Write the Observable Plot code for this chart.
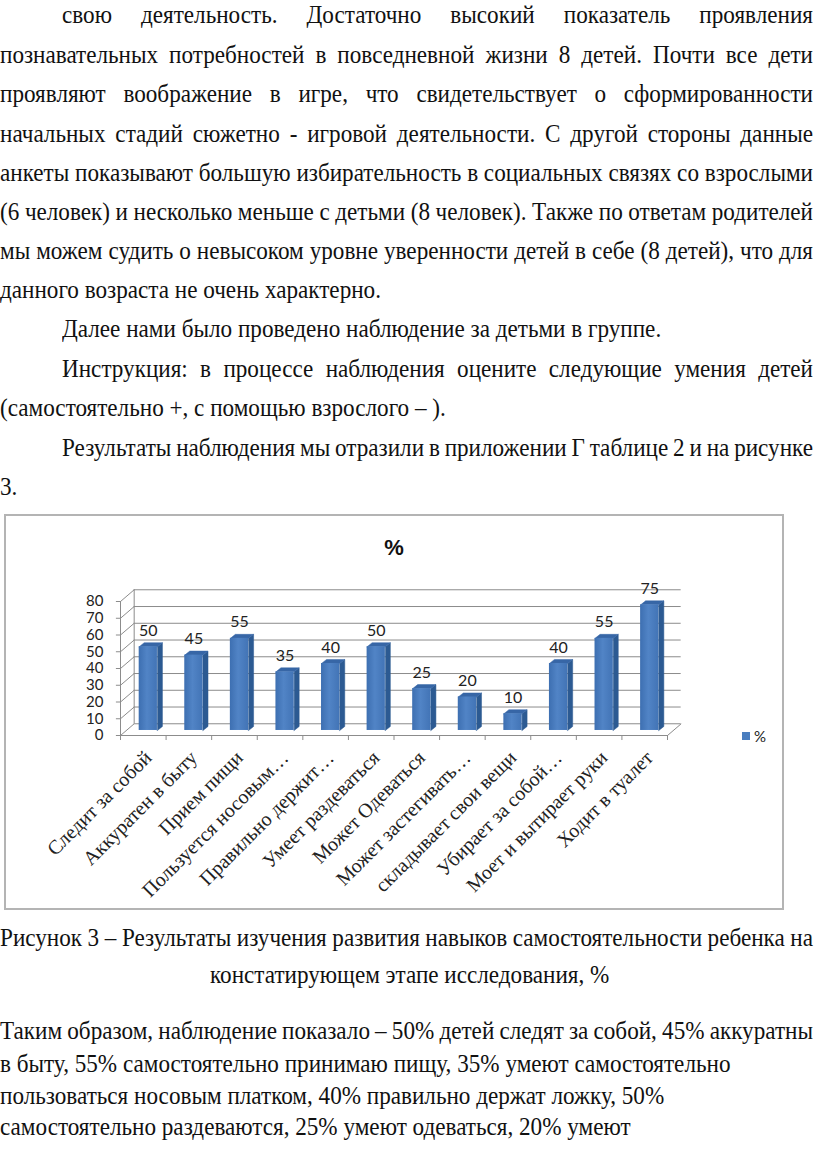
<!DOCTYPE html>
<html><head><meta charset="utf-8">
<script src="https://cdn.jsdelivr.net/npm/d3@7"></script>
<script src="https://cdn.jsdelivr.net/npm/@observablehq/plot@0.6"></script>
<style>
body{margin:0;width:816px;height:1160px;position:relative;background:#fff;overflow:hidden;}
.ln{position:absolute;white-space:pre;font-family:"Liberation Serif","DejaVu Serif",serif;font-size:26px;line-height:26px;color:#111;transform-origin:0 50%;}
#box{position:absolute;left:4px;top:514px;width:776px;height:392px;border:2px solid #b4b4b4;}
#chart{position:absolute;left:0;top:515px;}
#legend{position:absolute;left:742px;top:727px;font-family:Lato,"Liberation Sans",sans-serif;font-size:15px;color:#222;display:flex;align-items:center;gap:4px;}
#legend span.sw{display:inline-block;width:8px;height:8px;background:#4a7ebf;}
</style></head><body>
<div id="box"></div>
<div id="chart"></div>
<div id="legend"><span class="sw"></span><span id="legText"></span></div>
<script>
// ---- chart data ----
const categories = ["Следит за собой","Аккуратен в быту","Прием пищи","Пользуется носовым…","Правильно держит…","Умеет раздеваться","Может Одеваться","Может застегивать…","складывает свои вещи","Убирает за собой…","Моет и вытирает руки","Ходит в туалет"];
const values = [50,45,55,35,40,50,25,20,10,40,55,75];
const yTicks = [0,10,20,30,40,50,60,70,80];
const seriesName = "%";
const chartTitle = "%";

// ---- page text ----
const textLines = [
 {t:"свою деятельность. Достаточно высокий показатель проявления", y:17, ind:62, j:true},
 {t:"познавательных потребностей в повседневной жизни 8 детей. Почти все дети", y:57, ind:0, j:true},
 {t:"проявляют воображение в игре, что свидетельствует о сформированности", y:96, ind:0, j:true},
 {t:"начальных стадий сюжетно - игровой деятельности. С другой стороны данные", y:136, ind:0, j:true},
 {t:"анкеты показывают большую избирательность в социальных связях со взрослыми", y:175, ind:0, j:true},
 {t:"(6 человек) и несколько меньше с детьми (8 человек). Также по ответам родителей", y:214, ind:0, j:true},
 {t:"мы можем судить о невысоком уровне уверенности детей в себе (8 детей), что для", y:253, ind:0, j:true},
 {t:"данного возраста не очень характерно.", y:292, ind:0, j:false},
 {t:"Далее нами было проведено наблюдение за детьми в группе.", y:331, ind:62, j:false},
 {t:"Инструкция: в процессе наблюдения оцените следующие умения детей", y:371, ind:62, j:true},
 {t:"(самостоятельно +, с помощью взрослого – ).", y:410, ind:0, j:false},
 {t:"Результаты наблюдения мы отразили в приложении Г таблице 2 и на рисунке", y:450, ind:62, j:true},
 {t:"3.", y:489, ind:0, j:false},
 {t:"Рисунок 3 – Результаты изучения развития навыков самостоятельности ребенка на", y:940, ind:0, j:true},
 {t:"констатирующем этапе исследования, %", y:977, ind:0, j:false, c:true},
 {t:"Таким образом, наблюдение показало – 50% детей следят за собой, 45% аккуратны", y:1033, ind:0, j:true},
 {t:"в быту, 55% самостоятельно принимаю пищу, 35% умеют самостоятельно", y:1066, ind:0, j:false},
 {t:"пользоваться носовым платком, 40% правильно держат ложку, 50%", y:1098, ind:0, j:false},
 {t:"самостоятельно раздеваются, 25% умеют одеваться, 20% умеют", y:1129, ind:0, j:false}
];

const RIGHT = 813;
const els = textLines.map(L => {
  const d = document.createElement("div");
  d.className = "ln"; d.textContent = L.t;
  document.body.appendChild(d);
  return d;
});
const refW = els[4].getBoundingClientRect().width;
const s = RIGHT / refW;
textLines.forEach((L, k) => {
  const d = els[k];
  const w = d.getBoundingClientRect().width;
  if (L.j) {
    const n = (L.t.match(/ /g) || []).length;
    const target = (RIGHT - L.ind) / s;
    d.style.wordSpacing = ((target - w) / n) + "px";
  }
  let left = L.ind;
  if (L.c) left = 410 - w * s / 2;
  d.style.left = left + "px";
  d.style.top = (L.y - 15) + "px";
  d.style.transform = `scaleX(${s})`;
});

// ---- chart ----
const BX = 0.3, BY = 7;     // back wall depth
const FX = 0.11, FY = 3;    // bar front offset
const HW = 0.2;             // bar half width
const DX = 0.11, DY = 2.4;  // bar depth

const bars = values.map((v, i) => ({cat: categories[i], i, v, xc: i + 0.5 + FX}));
const sideFace = bars.flatMap(b => [
  {k: b.i, x: b.xc + HW, y: FY}, {k: b.i, x: b.xc + HW + DX, y: FY + DY},
  {k: b.i, x: b.xc + HW + DX, y: b.v + FY + DY}, {k: b.i, x: b.xc + HW, y: b.v + FY}]);
const topFace = bars.flatMap(b => [
  {k: b.i, x: b.xc - HW, y: b.v + FY}, {k: b.i, x: b.xc - HW + DX, y: b.v + FY + DY},
  {k: b.i, x: b.xc + HW + DX, y: b.v + FY + DY}, {k: b.i, x: b.xc + HW, y: b.v + FY}]);

const grid = "#8c8c8c";
const sans = "Lato, 'Liberation Sans', sans-serif";
const serif = "'Liberation Serif', 'DejaVu Serif', serif";
const n = categories.length;

const chart = Plot.plot({
  width: 816, height: 393,
  marginLeft: 120, marginRight: 149, marginTop: 86, marginBottom: 173,
  x: {domain: [0, n], axis: null},
  y: {domain: [0, 80], axis: null},
  marks: [
    Plot.ruleY(yTicks, {y: d => d + BY, x1: () => BX, x2: () => n + BX, stroke: grid}),
    Plot.link(yTicks, {x1: () => 0, y1: d => d, x2: () => BX, y2: d => d + BY, stroke: grid}),
    Plot.ruleX([0], {y1: () => 0, y2: () => 80, stroke: grid}),
    Plot.ruleX([BX], {y1: () => BY, y2: () => 80 + BY, stroke: grid}),
    Plot.ruleY([0], {x1: () => 0, x2: () => n, stroke: grid}),
    Plot.link([0], {x1: () => n, y1: () => 0, x2: () => n + BX, y2: () => BY, stroke: grid}),
    Plot.ruleX(d3.range(n + 1), {y1: () => 0, y2: () => -3, stroke: grid}),
    Plot.ruleY(yTicks, {x1: () => -0.09, x2: () => 0, stroke: grid}),
    Plot.text(yTicks, {x: () => 0, y: d => d, text: d => String(d), textAnchor: "end", dx: -17, fontSize: 15, fontFamily: sans, fill: "#222"}),
    Plot.line(sideFace, {x: "x", y: "y", z: "k", fill: "#2c5a92", stroke: "#2c5a92", strokeWidth: 0.5, curve: "linear-closed"}),
    Plot.line(topFace, {x: "x", y: "y", z: "k", fill: "#3766a6", stroke: "#3766a6", strokeWidth: 0.5, curve: "linear-closed"}),
    Plot.rect(bars, {x1: d => d.xc - HW, x2: d => d.xc + HW, y1: () => FY, y2: d => d.v + FY, fill: "url(#barGrad)"}),
    Plot.text(bars, {x: "xc", y: d => d.v + FY, text: d => String(d.v), dy: -16, fontSize: 16, fontFamily: sans, fill: "#222"}),
    Plot.text(bars, {x: d => d.i + 0.5, y: () => 0, text: "cat", rotate: -45, textAnchor: "end", dx: 5, dy: 19, fontSize: 20, fontFamily: serif, fill: "#222"}),
    Plot.text([chartTitle], {frameAnchor: "top", dy: -62, fontSize: 22, fontWeight: "bold", fontFamily: "'Liberation Sans', sans-serif", fill: "#111"})
  ]
});
const ns = "http://www.w3.org/2000/svg";
const defs = document.createElementNS(ns, "defs");
defs.innerHTML = '<linearGradient id="barGrad" x1="0" x2="1" y1="0" y2="0"><stop offset="0" stop-color="#3d6fb1"/><stop offset="0.45" stop-color="#5184c6"/><stop offset="1" stop-color="#4274b6"/></linearGradient>';
chart.prepend(defs);
chart.style.background = "transparent";
document.getElementById("chart").appendChild(chart);
document.getElementById("legText").textContent = seriesName;
</script>
</body></html>
